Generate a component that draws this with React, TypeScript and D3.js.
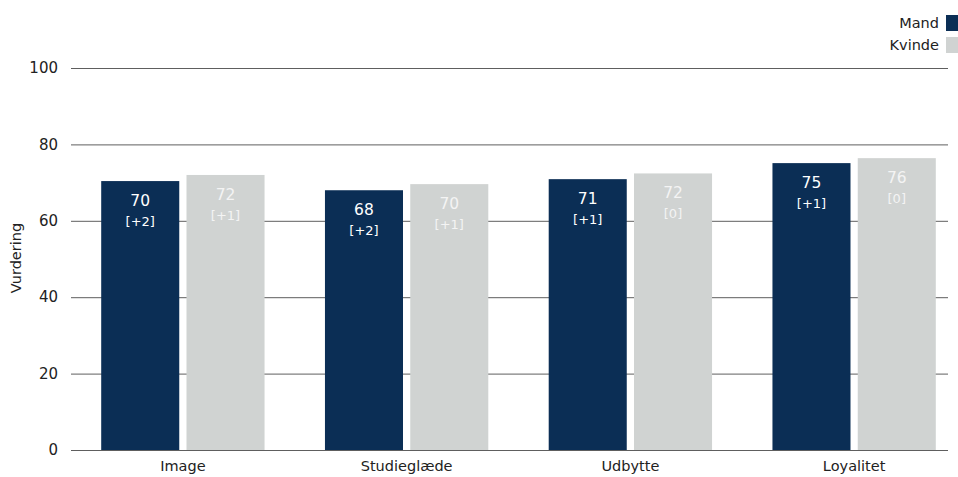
import React from "react";
import * as d3 from "d3";

const categories = ["Image", "Studieglæde", "Udbytte", "Loyalitet"];
const series = ["Mand", "Kvinde"];
const mandValues = [70.4, 68.0, 70.9, 75.1];
const kvindeValues = [72.0, 69.6, 72.4, 76.4];
const mandLabels = ["70", "68", "71", "75"];
const kvindeLabels = ["72", "70", "72", "76"];
const mandDeltas = ["[+2]", "[+2]", "[+1]", "[+1]"];
const kvindeDeltas = ["[+1]", "[+1]", "[0]", "[0]"];
const yTicks = [0, 20, 40, 60, 80, 100];

const W = 958;
const H = 477;
const colors = ["#0b2e55", "#d0d3d2"];
const font = "Tahoma, 'DejaVu Sans', Verdana, sans-serif";

export default function App() {
  const y = d3.scaleLinear().domain([0, 100]).range([450, 68]);
  const x = d3.scaleBand<string>().domain(categories).range([71, 966]).paddingInner(0.27).paddingOuter(0.135);
  const x1 = d3.scaleBand<string>().domain(series).range([0, x.bandwidth()]).paddingInner(0.085);
  const vals = [mandValues, kvindeValues];
  const labels = [mandLabels, kvindeLabels];
  const deltas = [mandDeltas, kvindeDeltas];
  const labelColor = ["#ffffff", "#f4f4f4"];

  return (
    <svg width={W} height={H} style={{ position: "absolute", left: 0, top: 0, fontFamily: font }}>
      {yTicks.map((t) => (
        <g key={t}>
          <line x1={71} x2={948} y1={y(t) + 0.5} y2={y(t) + 0.5} stroke="#5e5e5e" strokeWidth={1} />
          <text x={58} y={y(t)} dy="0.35em" textAnchor="end" fontSize={15} fill="#222">{t}</text>
        </g>
      ))}
      <text transform={`translate(21,258) rotate(-90)`} textAnchor="middle" fontSize={14.5} fill="#222">Vurdering</text>
      {categories.map((c, i) => (
        <g key={c} transform={`translate(${x(c)},0)`}>
          {series.map((s, j) => {
            const bx = x1(s)!;
            const bw = x1.bandwidth();
            const top = y(vals[j][i]);
            return (
              <g key={s}>
                <rect x={bx} y={top} width={bw} height={450 - top} fill={colors[j]} />
                <text x={bx + bw / 2} y={top + 25} textAnchor="middle" fontSize={15.5} fill={labelColor[j]}>{labels[j][i]}</text>
                <text x={bx + bw / 2} y={top + 45} textAnchor="middle" fontSize={13} fill={labelColor[j]}>{deltas[j][i]}</text>
              </g>
            );
          })}
          <text x={x.bandwidth() / 2} y={471} textAnchor="middle" fontSize={14.5} fill="#222">{c}</text>
        </g>
      ))}
      {series.map((s, j) => (
        <g key={s}>
          <rect x={946} y={15 + j * 22} width={12} height={16} fill={colors[j]} />
          <text x={939} y={23 + j * 22} dy="0.35em" textAnchor="end" fontSize={14.5} fill="#222">{s}</text>
        </g>
      ))}
    </svg>
  );
}
